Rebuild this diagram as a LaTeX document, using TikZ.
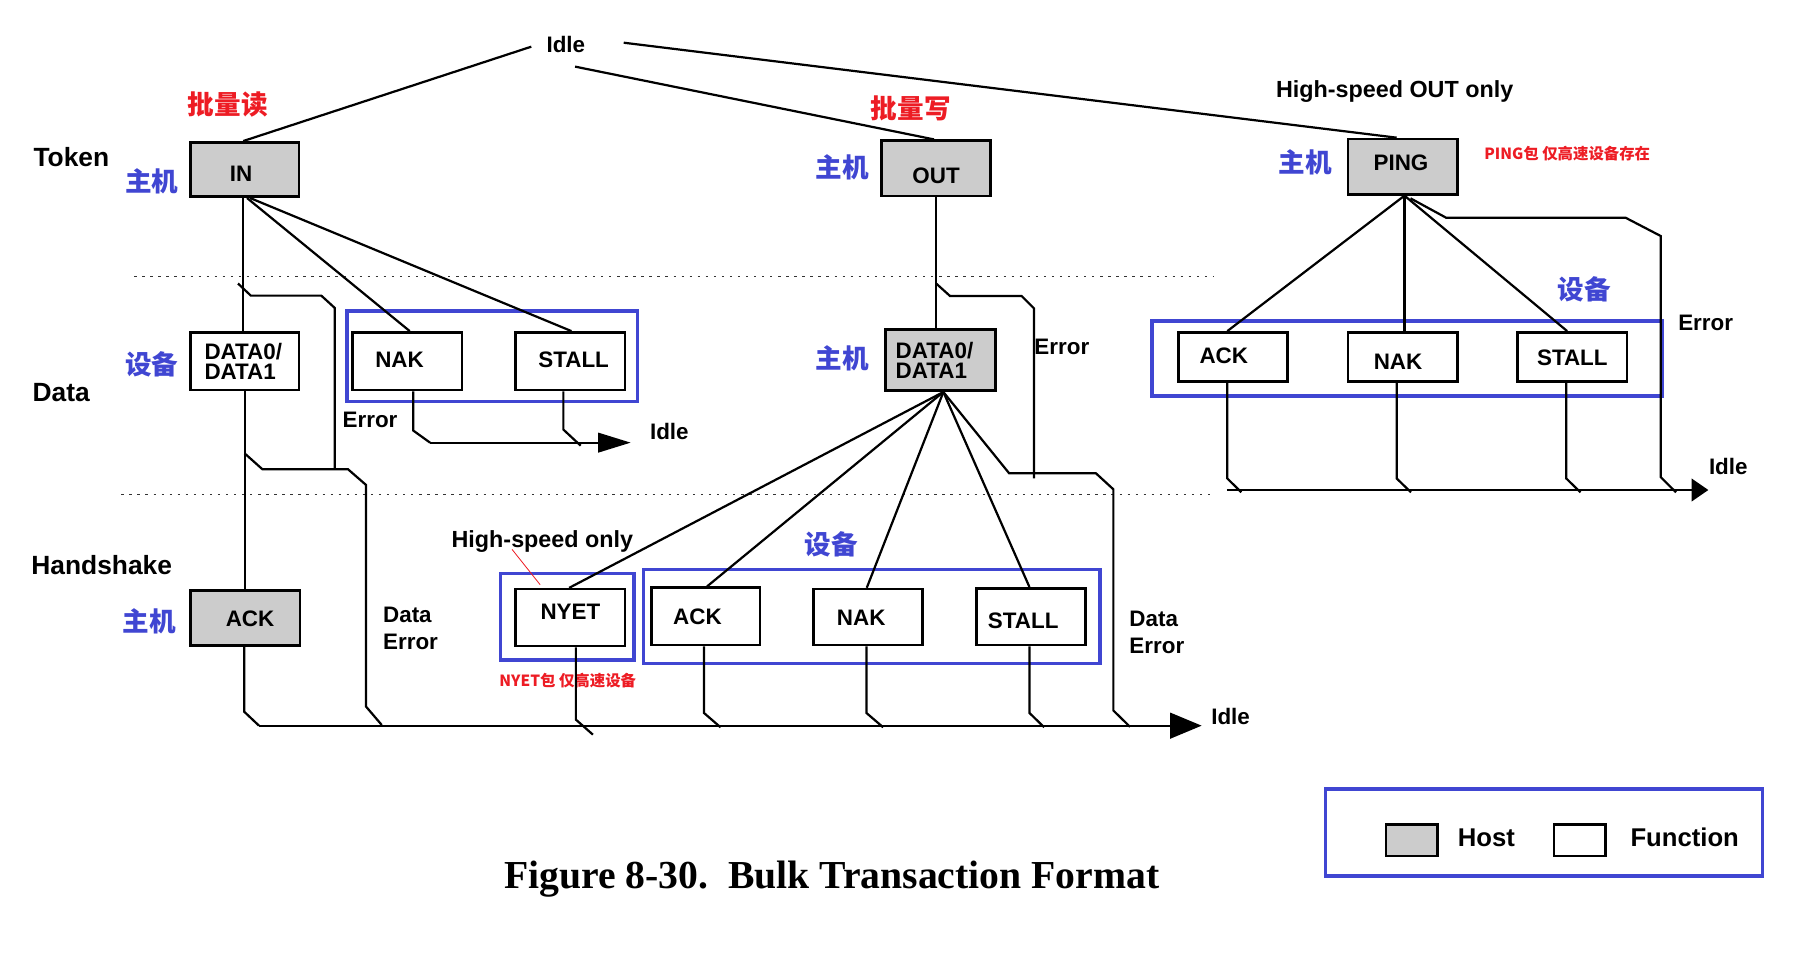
\documentclass[tikz,border=0pt]{standalone}
\usepackage{fontspec}
\setmainfont{Liberation Sans}
\newfontfamily\cjk{Noto Sans CJK SC}
\newfontfamily\capfont{Liberation Serif}
\usetikzlibrary{arrows.meta}
\definecolor{myblue}{RGB}{64,70,210}
\definecolor{myred}{RGB}{237,28,36}
\definecolor{hostgray}{RGB}{204,204,204}
\newcommand\mv[3]{\hspace*{#1}\makebox[0pt]{\raisebox{#2}{#3}}\hspace*{-#1}}
\newcommand\mvl[3]{\hspace*{#1}\makebox[0pt][l]{\raisebox{#2}{#3}}\hspace*{-#1}}
\newcommand\twol[3]{\vbox{\baselineskip=#3\lineskiplimit=-20pt\lineskip=0pt\hbox{#1}\hbox{#2}}}
\tikzset{
 ln/.style={line width=0.95pt, black},
 boxst/.style={draw, line width=1.1pt, fill=white, inner sep=0pt, text height=6.9pt, text depth=0pt, font=\bfseries\fontsize{9.6pt}{11pt}\selectfont},
 hostbox/.style={boxst, fill=hostgray},
 grp/.style={draw=myblue, line width=1.4pt, inner sep=0pt},
 lblbig/.style={inner sep=0pt, text height=8.1pt, text depth=0pt, font=\bfseries\fontsize{11.3pt}{13pt}\selectfont},
 lbl/.style={inner sep=0pt, text height=6.9pt, text depth=0pt, font=\bfseries\fontsize{9.6pt}{11pt}\selectfont},
 lblmid/.style={inner sep=0pt, text height=7.2pt, text depth=0pt, font=\bfseries\fontsize{10pt}{12pt}\selectfont},
 lbllg/.style={inner sep=0pt, text height=7.9pt, text depth=0pt, font=\bfseries\fontsize{11pt}{13pt}\selectfont},
 cnb/.style={inner sep=0pt, text height=8.7pt, text depth=0pt, text=myblue, font=\cjk\bfseries\fontsize{11.4pt}{13pt}\selectfont},
 cnr/.style={cnb, text=myred},
 cns/.style={inner sep=0pt, text height=5pt, text depth=0pt, text=myred, font=\cjk\bfseries\fontsize{6.6pt}{8pt}\selectfont},
 dotln/.style={line width=0.6pt, black!80, dash pattern=on 1pt off 2.45pt},
}
\begin{document}
\begin{tikzpicture}[x=0.5pt,y=-0.5pt]
\useasboundingbox (0,0) rectangle (1560,819.4);

% dotted separators
\coordinate (d1a) at (115,237); \coordinate (d1b) at (1040,237);
\coordinate (d2a) at (104,424); \coordinate (d2b) at (1042,424);
\draw[dotln] (d1a) -- (d1b);
\draw[dotln] (d2a) -- (d2b);

% group frames
\node[grp, minimum width=124.55pt, minimum height=38.85pt] (grpL) at (421.9,305.45) {};
\node[grp, minimum width=57.05pt, minimum height=37.15pt] (grpNY) at (486.35,528.55) {};
\node[grp, minimum width=195.75pt, minimum height=40.3pt] (grpM) at (747.15,528.3) {};
\node[grp, minimum width=218.55pt, minimum height=32.15pt] (grpR) at (1206.05,307.25) {};

% boxes
\node[hostbox, minimum width=46.5pt, minimum height=23.3pt] (IN) at (209.9,145.3) {\mv{-1.6pt}{-1.8pt}{IN}};
\node[boxst, minimum width=46.5pt, minimum height=24.7pt] (DATAL) at (209.9,309.6) {\mvl{-17.3pt}{-4.5pt}{\twol{DATA0/}{DATA1}{8.6pt}}};
\node[boxst, minimum width=46.85pt, minimum height=24.7pt] (NAKL) at (349.2,309.6) {\mv{-3.35pt}{0.8pt}{NAK}};
\node[boxst, minimum width=46.85pt, minimum height=24.7pt] (STALLL) at (488.9,309.6) {\mv{1.4pt}{0.8pt}{STALL}};
\node[hostbox, minimum width=46.85pt, minimum height=23.6pt] (ACKH) at (210.3,529.9) {\mv{2pt}{0pt}{ACK}};
\node[boxst, minimum width=46.85pt, minimum height=24.35pt] (NYET) at (488.9,529.35) {\mv{0pt}{2.5pt}{NYET}};
\node[hostbox, minimum width=46.7pt, minimum height=23.7pt] (OUT) at (802.4,144.3) {\mv{0pt}{-2.85pt}{OUT}};
\node[hostbox, minimum width=47.1pt, minimum height=26.3pt] (DATAM) at (806,308.6) {\mvl{-19.15pt}{-4.25pt}{\twol{DATA0/}{DATA1}{8.55pt}}};
\node[boxst, minimum width=46.5pt, minimum height=24.6pt] (ACKM) at (604.8,528.3) {\mv{-3.5pt}{0pt}{ACK}};
\node[boxst, minimum width=46.65pt, minimum height=24pt] (NAKM) at (743.85,528.9) {\mv{-2.85pt}{0pt}{NAK}};
\node[boxst, minimum width=46.9pt, minimum height=24.3pt] (STALLM) at (883.7,528.6) {\mv{-3.35pt}{-1.4pt}{STALL}};
\node[hostbox, minimum width=47.05pt, minimum height=23.75pt] (PING) at (1202.35,142.85) {\mv{-0.75pt}{1.75pt}{PING}};
\node[boxst, minimum width=46.9pt, minimum height=21.15pt] (ACKR) at (1056.9,306.05) {\mv{-3.95pt}{0.5pt}{ACK}};
\node[boxst, minimum width=46.9pt, minimum height=21.15pt] (NAKR) at (1202.35,306.05) {\mv{-2pt}{-2pt}{NAK}};
\node[boxst, minimum width=46.9pt, minimum height=21.15pt] (STALLR) at (1347.7,306.05) {\mv{0pt}{-0.35pt}{STALL}};

% texts
\node[lbl] (idleT) at (485,38.5) {Idle};
\node[cnr] (bulkIn) at (195.2,89.4) {批量读};
\node[cnr] (bulkOut) at (780.6,92.9) {批量写};
\node[lblmid] (hsOut) at (1195.4,76.6) {High-speed OUT only};
\node[lblbig] (tok) at (61.2,134.9) {Token};
\node[lblbig] (dat) at (52.4,335.7) {Data};
\node[lblbig] (hs) at (87.2,484.3) {Handshake};
\node[cnb] (h1) at (130,155.1) {主机};
\node[cnb] (f1) at (130,312.3) {设备};
\node[cnb] (h2) at (128.2,532.3) {主机};
\node[cnb] (h3) at (722,143.4) {主机};
\node[cnb] (h4) at (722,307.1) {主机};
\node[cnb] (h5) at (1118.9,139.4) {主机};
\node[cnb] (f2) at (1358,248) {设备};
\node[cnb] (f3) at (712.5,466.3) {设备};
\node[cns, anchor=west] (pingNote) at (1271.9,131.4) {PING包 仅高速设备存在};
\node[cns, anchor=west] (nyetNote) at (427.7,583.4) {NYET包 仅高速设备};
\node[lblmid] (hsOnly) at (464.9,462.3) {High-speed only};
\node[lbl] (errIN) at (317.2,359.4) {Error};
\node[lbl] (idleIN) at (573.7,370) {Idle};
\node[lbl, anchor=west] (errOUT) at (886.3,297.1) {Error};
\node[lbl] (errP) at (1462,276.6) {Error};
\node[lbl] (idleP) at (1481.4,400) {Idle};
\node[lbl] (idleB) at (1054.8,614) {Idle};
\node[lbl, anchor=west] (deL1) at (328,526.3) {Data};
\node[lbl, anchor=west] (deL2) at (328,550) {Error};
\node[lbl, anchor=west] (deR1) at (967.7,530) {Data};
\node[lbl, anchor=west] (deR2) at (967.7,553.4) {Error};

% legend
\node[grp, minimum width=187.5pt, minimum height=37.3pt] (leg) at (1323.5,713.6) {};
\node[hostbox, minimum width=22pt, minimum height=13.55pt] (legH) at (1210,720.15) {};
\node[boxst, minimum width=22pt, minimum height=13.55pt] (legF) at (1354,720.15) {};
\node[lbllg] (legHt) at (1274,717.5) {Host};
\node[lbllg] (legFt) at (1444,717.5) {Function};

% caption
\node[anchor=base, inner sep=0pt, font=\capfont\bfseries\fontsize{17pt}{20pt}\selectfont] (cap) at (712.9,761.4) {Figure 8-30.\ \ Bulk Transaction Format};

% coordinates for free ends
\coordinate (idleL) at (455.4,40);
\coordinate (idleM) at (492.9,57.1);
\coordinate (idleR) at (534.6,36.6);
\coordinate (busLs) at (368.6,379.4);
\coordinate (busLe) at (540.6,379.4);
\coordinate (busBs) at (222,622);
\coordinate (busBe) at (1030,622);
\coordinate (busRs) at (1051.7,420);
\coordinate (busRe) at (1464.3,420);

% lines from Idle
\draw[ln] (idleL) -- ([xshift=-0.7pt]IN.north);
\draw[ln] (idleM) -- ([xshift=-0.9pt]OUT.north);
\draw[ln] (idleR) -- ([xshift=-2.6pt]PING.north);

% IN transaction
\draw[ln] ([xshift=-0.7pt]IN.south) -- ([xshift=-0.7pt]DATAL.north);
\draw[ln] ([xshift=0.9pt]IN.south) -- ([xshift=1pt]NAKL.north);
\draw[ln] ([xshift=2.2pt]IN.south) -- ([xshift=0.45pt]STALLL.north);
\draw[ln] (DATAL.south) -- (DATAL.south |- ACKH.north);
\coordinate (eIN) at (204,243);
\draw[ln] (eIN) -- (215,253.4) -- (275.4,253.4) -- (287,264) -- (287,402.3);
\coordinate (eDL) at (209.7,388.6);
\draw[ln] (eDL) -- (225,402.3) -- (298.4,402.3) -- (313.8,415.7) -- (313.8,605.7) -- (327.2,621.4);
\draw[ln] ([xshift=2.55pt]NAKL.south) -- ++(0,33.7) -- (busLs);
\draw[ln] ([xshift=-3pt]STALLL.south) -- ++(0,32.8) -- (497.7,382);
\draw[ln, -{Triangle[length=14pt,width=8.4pt]}] (busLs) -- (busLe);

% handshake bus
\draw[ln] ([xshift=-0.45pt]ACKH.south) -- ++(0,55.5) -- (busBs);
\draw[ln] ([xshift=2.35pt]NYET.south) -- ++(0,62) -- ++(14.6,12.9);
\draw[ln] ([xshift=-0.7pt]ACKM.south) -- ++(0,57.1) -- (617.6,623.4);
\draw[ln] ([xshift=-0.6pt]NAKM.south) -- ++(0,57.1) -- (757,623.4);
\draw[ln] ([xshift=-0.65pt]STALLM.south) -- ++(0,57.1) -- (895,623.4);
\draw[ln, -{Triangle[length=13.5pt,width=11pt]}] (busBs) -- (busBe);

% OUT transaction
\draw[ln] (OUT.south) -- (OUT.south |- DATAM.north);
\coordinate (eOUT) at (802.3,242.9);
\draw[ln] (eOUT) -- (814.3,253.7) -- (875.7,253.7) -- (886.3,264.3) -- (886.3,410);
\coordinate (fanM) at ([xshift=1.3pt]DATAM.south);
\draw[ln] (fanM) -- ([xshift=-0.55pt]NYET.north);
\draw[ln] (fanM) -- ([xshift=0.65pt]ACKM.north);
\draw[ln] (fanM) -- ([xshift=-0.45pt]NAKM.north);
\draw[ln] (fanM) -- ([xshift=-0.65pt]STALLM.north);
\draw[ln] (fanM) -- (865,405.7) -- (939.4,405.7) -- (954.3,419.4) -- (954.3,609) -- (968.6,623);

% PING transaction
\coordinate (fanP) at ([xshift=0.75pt]PING.south);
\draw[ln] (fanP) -- ([xshift=-2.45pt]ACKR.north);
\draw[ln] (fanP) -- (fanP |- NAKR.north);
\draw[ln] (fanP) -- ([xshift=-2.2pt]STALLR.north);
\coordinate (ePING) at (1209,170);
\draw[ln] (ePING) -- (1239.5,186.6) -- (1393.3,186.6) -- (1423.5,202.3) -- (1423.5,409) -- (1436.6,422);
\draw[ln] ([xshift=-2.45pt]ACKR.south) -- ++(0,81.8) -- (1064,422);
\draw[ln] ([xshift=-2.6pt]NAKR.south) -- ++(0,81.8) -- (1209.4,422);
\draw[ln] ([xshift=-2.6pt]STALLR.south) -- ++(0,81.8) -- (1354.7,422);
\draw[ln, -{Triangle[length=7.2pt,width=9.7pt]}] (busRs) -- (busRe);

% pointer for High-speed only
\coordinate (hsPtr) at (438.9,470.9);
\draw[myred, line width=0.35pt] (hsPtr) -- ([xshift=-12.95pt,yshift=1.35pt]NYET.north);
\end{tikzpicture}
\end{document}
